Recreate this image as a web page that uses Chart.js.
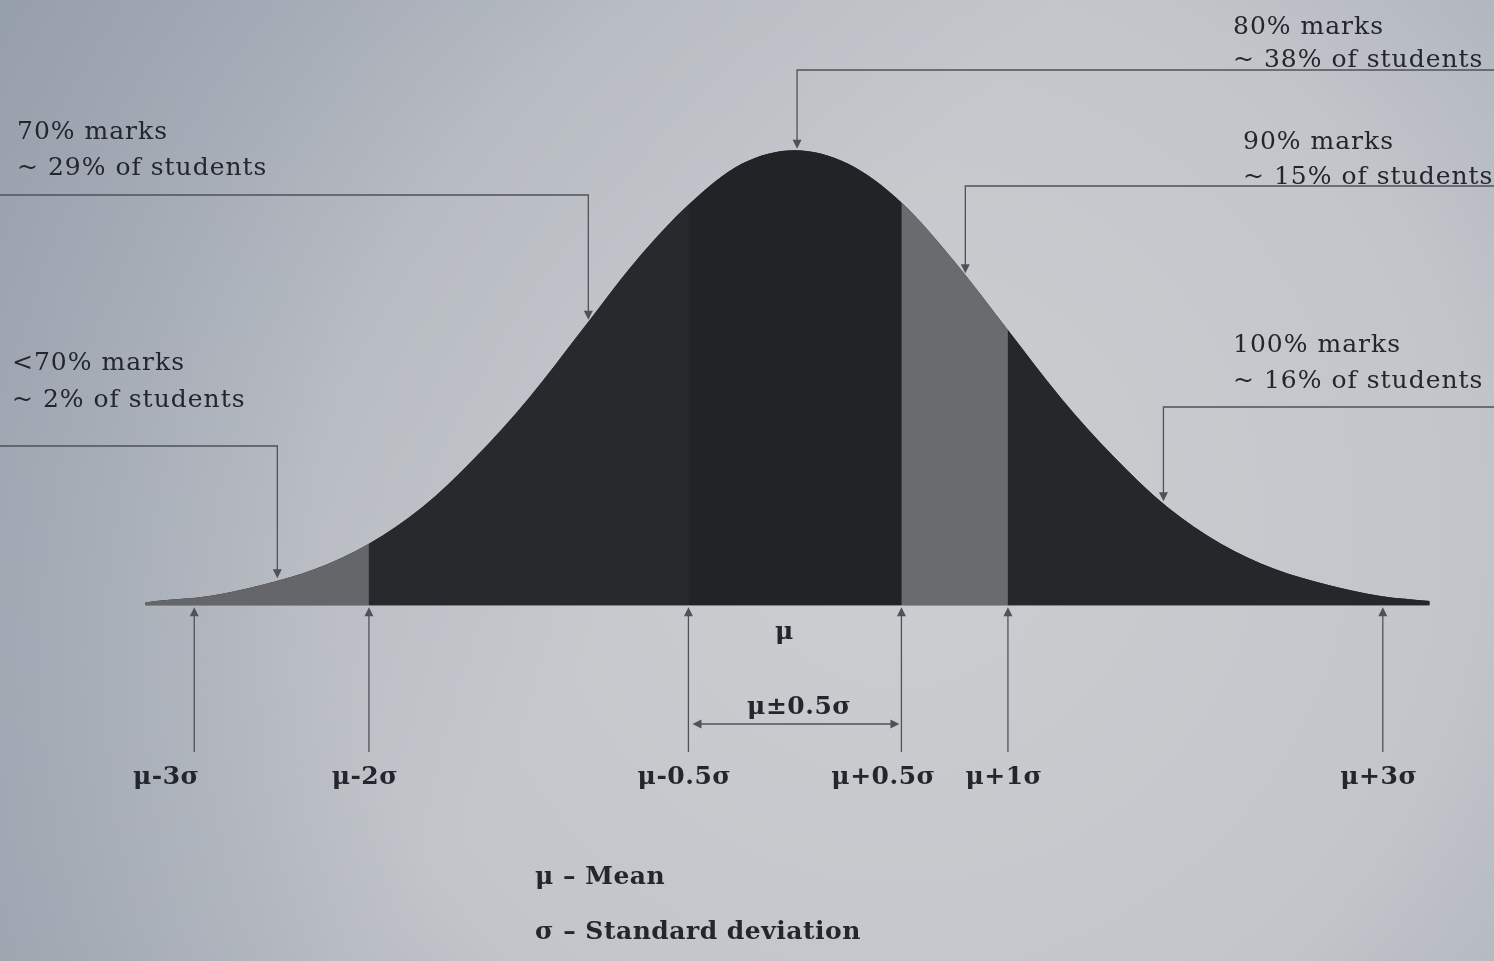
<!DOCTYPE html>
<html>
<head>
<meta charset="utf-8">
<script src="https://cdn.jsdelivr.net/npm/chart.js@4"></script>
<style>
html, body { margin: 0; padding: 0; }
#wrap { width: 1494px; height: 961px; position: relative; }
</style>
</head>
<body>
<div id="wrap"><canvas id="bell"></canvas></div>
<script>
// courbe : x en sigma autour de la moyenne, hauteur en % du pic
const sigmaX = [-3.05, -3, -2.75, -2.5, -2.25, -2, -1.75, -1.5, -1.25, -1, -0.75, -0.5, -0.25, 0,
  0.25, 0.5, 0.75, 1, 1.25, 1.5, 1.75, 2, 2.25, 2.5, 2.75, 2.98];
const heightPct = [0.6, 0.9, 2, 4.5, 8, 13.5, 21.5, 32.5, 45.5, 60.5, 75.5, 88, 97, 100,
  97, 88.5, 75.5, 60.5, 45.5, 32.5, 21.5, 13.5, 8, 4.5, 2, 0.9];

// zones grisées / noires
const zoneBounds = [-3.05, -2, -0.5, 0.5, 1, 2.98];
const zoneColors = ["#646669", "#27292d", "#212326", "#696b6f", "#25272b"];

// repères sous l'axe
const markX = [-2.82, -2, -0.5, 0.5, 1, 2.76];
const markLabels = ["μ-3σ", "μ-2σ", "μ-0.5σ", "μ+0.5σ", "μ+1σ", "μ+3σ"];

// annotations
const noteTitles = ["<70% marks", "70% marks", "80% marks", "90% marks", "100% marks"];
const noteShares = ["~ 2% of students", "~ 29% of students", "~ 38% of students", "~ 15% of students", "~ 16% of students"];
const noteTargetX = [-2.43, -0.97, 0.01, 0.8, 1.73];

const legendLines = ["μ – Mean", "σ – Standard deviation"];

// position des blocs de texte (px)
const noteLayout = [
  { tx: 12, t1: 363, t2: 400, ly: 446, side: "left" },
  { tx: 17, t1: 132, t2: 168, ly: 195, side: "left" },
  { tx: 1233, t1: 27, t2: 60, ly: 70, side: "right" },
  { tx: 1243, t1: 142, t2: 177, ly: 186, side: "right" },
  { tx: 1233, t1: 345, t2: 381, ly: 407, side: "right" }
];

const ink = "#24262d";
const wire = "#4f525a";

function zoneColor(x) {
  for (let i = 0; i < zoneColors.length; i++) {
    if (x >= zoneBounds[i] - 1e-6 && x < zoneBounds[i + 1] - 1e-6) return zoneColors[i];
  }
  return zoneColors[zoneColors.length - 1];
}

// hauteur de la courbe à une position x (entre deux points lus)
function curveAt(x) {
  for (let i = 0; i < sigmaX.length - 1; i++) {
    if (x >= sigmaX[i] && x <= sigmaX[i + 1]) {
      const t = (x - sigmaX[i]) / (sigmaX[i + 1] - sigmaX[i]);
      return heightPct[i] + t * (heightPct[i + 1] - heightPct[i]);
    }
  }
  return 0;
}

function arrowHead(ctx, x, y, dir) {
  const L = 9, W = 4.5;
  ctx.beginPath();
  ctx.moveTo(x, y);
  if (dir === "down") { ctx.lineTo(x - W, y - L); ctx.lineTo(x + W, y - L); }
  if (dir === "up") { ctx.lineTo(x - W, y + L); ctx.lineTo(x + W, y + L); }
  if (dir === "left") { ctx.lineTo(x + L, y - W); ctx.lineTo(x + L, y + W); }
  if (dir === "right") { ctx.lineTo(x - L, y - W); ctx.lineTo(x - L, y + W); }
  ctx.closePath();
  ctx.fill();
}

// fond papier photographié
const paperBg = {
  id: "paperBg",
  beforeDraw(chart) {
    const { ctx, width, height } = chart;
    ctx.save();
    const g = ctx.createRadialGradient(900, 520, 50, 900, 520, 1100);
    g.addColorStop(0, "#cbcdd0");
    g.addColorStop(0.5, "#c2c5ca");
    g.addColorStop(1, "#9aa2ae");
    ctx.fillStyle = g;
    ctx.fillRect(0, 0, width, height);
    const g2 = ctx.createLinearGradient(0, 0, 700, 500);
    g2.addColorStop(0, "rgba(140,150,165,0.45)");
    g2.addColorStop(1, "rgba(140,150,165,0)");
    ctx.fillStyle = g2;
    ctx.fillRect(0, 0, width, height);
    ctx.restore();
  }
};

// flèches, libellés et légende
const notes = {
  id: "notes",
  afterDatasetsDraw(chart) {
    const { ctx } = chart;
    const xs = chart.scales.x, ys = chart.scales.y;
    const base = ys.getPixelForValue(0);
    ctx.save();
    ctx.strokeStyle = wire;
    ctx.fillStyle = wire;
    ctx.lineWidth = 1.3;

    // renvois vers la courbe
    noteTitles.forEach((t, i) => {
      const lay = noteLayout[i];
      const px = xs.getPixelForValue(noteTargetX[i]);
      const py = ys.getPixelForValue(curveAt(noteTargetX[i])) - 2;
      ctx.beginPath();
      ctx.moveTo(lay.side === "left" ? 0 : chart.width, lay.ly);
      ctx.lineTo(px, lay.ly);
      ctx.lineTo(px, py - 6);
      ctx.stroke();
      arrowHead(ctx, px, py, "down");
    });

    // repères verticaux
    markX.forEach(v => {
      const px = xs.getPixelForValue(v);
      ctx.beginPath();
      ctx.moveTo(px, 752);
      ctx.lineTo(px, base + 8);
      ctx.stroke();
      arrowHead(ctx, px, base + 2, "up");
    });

    // intervalle μ±0.5σ
    const a = xs.getPixelForValue(-0.5) + 4, b = xs.getPixelForValue(0.5) - 2;
    ctx.beginPath();
    ctx.moveTo(a + 6, 724);
    ctx.lineTo(b - 6, 724);
    ctx.stroke();
    arrowHead(ctx, a, 724, "left");
    arrowHead(ctx, b, 724, "right");

    // textes
    ctx.fillStyle = ink;
    ctx.textBaseline = "middle";
    ctx.textAlign = "left";
    ctx.font = "25px 'DejaVu Serif'";
    ctx.letterSpacing = "1px";
    noteTitles.forEach((t, i) => {
      const lay = noteLayout[i];
      ctx.fillText(t, lay.tx, lay.t1);
      ctx.fillText(noteShares[i], lay.tx, lay.t2);
    });

    ctx.letterSpacing = "0.5px";
    ctx.font = "bold 25px 'DejaVu Serif'";
    ctx.textAlign = "center";
    markLabels.forEach((l, i) => {
      ctx.fillText(l, xs.getPixelForValue(markX[i]) - (i === 0 ? 28 : i === 3 ? 18 : 4), 777);
    });
    ctx.fillText("μ", xs.getPixelForValue(-0.05), 632);
    ctx.fillText("μ±0.5σ", xs.getPixelForValue(0.02), 707);

    ctx.textAlign = "left";
    ctx.font = "bold 25px 'DejaVu Serif'";
    ctx.fillText(legendLines[0], 535, 877);
    ctx.fillText(legendLines[1], 535, 932);
    ctx.restore();
  }
};

const points = sigmaX.map((x, i) => ({ x, y: heightPct[i] }));

new Chart(document.getElementById("bell"), {
  type: "line",
  data: {
    datasets: [{
      // zones colorées
      data: points,
      order: 0,
      fill: "origin",
      borderWidth: 0,
      borderColor: "rgba(0,0,0,0)",
      backgroundColor: zoneColors[1],
      cubicInterpolationMode: "monotone",
      pointRadius: 0,
      segment: {
        backgroundColor: c => zoneColor(c.p0.parsed.x)
      }
    }, {
      // fond sombre sous les zones (évite les joints clairs)
      data: points,
      order: 1,
      fill: "origin",
      borderWidth: 0,
      borderColor: "rgba(0,0,0,0)",
      backgroundColor: "#2a2c30",
      cubicInterpolationMode: "monotone",
      pointRadius: 0
    }]
  },
  options: {
    responsive: true,
    maintainAspectRatio: false,
    animation: false,
    layout: { padding: 0 },
    scales: {
      x: { type: "linear", min: -3.732, max: 3.282, display: false },
      y: { min: -78.2, max: 133, display: false }
    },
    plugins: { legend: { display: false }, tooltip: { enabled: false } }
  },
  plugins: [paperBg, notes]
});
</script>
</body>
</html>
